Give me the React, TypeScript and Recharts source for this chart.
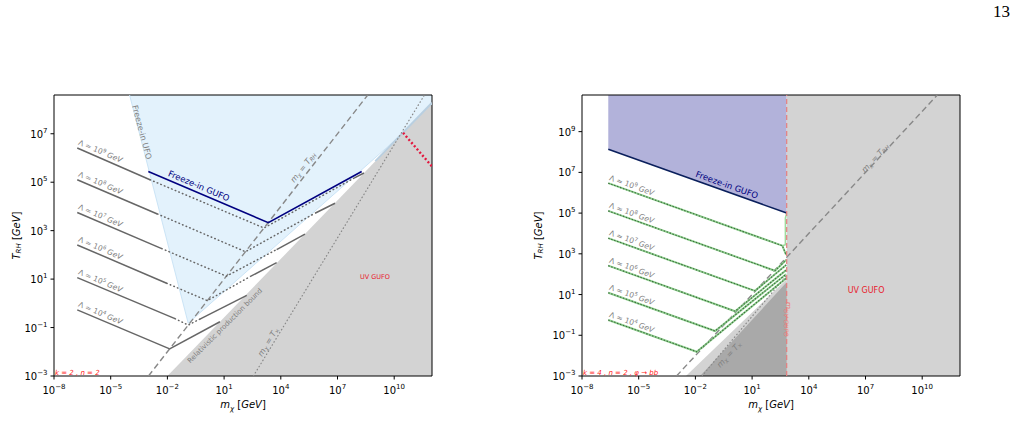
import React from 'react';
import { ComposedChart, Area, Line, XAxis, YAxis, ReferenceArea, ReferenceDot, Label } from 'recharts';

// axes (values are log10 of GeV)
const X_TICKS = [-8, -5, -2, 1, 4, 7, 10];
const Y_TICKS_L = [-3, -1, 1, 3, 5, 7];
const Y_TICKS_R = [-3, -1, 1, 3, 5, 7, 9];
const X_DOMAIN = [-8, 12];
const Y_DOMAIN_L = [-3, 8.6];
const Y_DOMAIN_R = [-3, 10.8];
const LAMBDA_EXP = [9, 8, 7, 6, 5, 4];

// left panel (k=2, n=2)
const L_LAM_X0 = -6.77;
const L_LAM_Y0 = [6.41, 5.1, 3.75, 2.41, 1.06, -0.27];
const L_LAM_SOLID_END = [[-2.92, 5.1], [-2.53, 3.69], [-2.3, 2.26], [-2.04, 0.83], [-1.6, -0.63], [-1.88, -1.88]];
const L_LAM_VERTEX = [[3.11, 3.11], [2.13, 2.13], [1.12, 1.12], [0.11, 0.11], [-0.9, -0.9], [-1.88, -1.88]];
const L_LAM_DOT_END = [[7.9, 5.18], [5.81, 3.72], [3.78, 2.22], [2.37, 1.1], [-0.28, -0.65], [-1.88, -1.88]];
const L_LAM_END = [[8.4, 5.38], [6.87, 4.13], [5.28, 2.86], [3.78, 1.68], [2.2, 0.33], [0.78, -0.76]];
const L_GRAY = [[-2, -3, -3], [12, -3, 8.28]];
const L_BLUE = [[-4.0, 8.6, 8.6], [-0.9, -0.82, 8.6], [10.4, 6.98, 8.6], [12, 8.28, 8.6]];
const L_BLUE_EDGE = [[-4.0, 8.6], [-0.9, -0.82], [10.4, 6.98]];
const L_BLUE_BAND = [[9.0, 5.87], [12, 8.28]];
const L_GUFO = [[-3.01, 5.44], [3.34, 3.33], [8.28, 5.44]];
const L_TRH = [[-3, -3], [8.6, 8.6]];
const L_TX = [[2.55, -3], [11.6, 8.6]];
const L_RED = [[10.47, 7.04], [12, 5.65]];

// right panel (k=4, n=2, phi -> bb)
const R_LAM_X0 = -6.61;
const R_LAM_Y0 = [6.47, 5.11, 3.77, 2.42, 1.09, -0.25];
const R_LAM_TURN = [[2.6, 3.4], [2.21, 2.17], [1.15, 1.18], [0.1, 0.18], [-0.96, -0.79], [-1.93, -1.81]];
const R_LAM_END = [[2.8, 2.95], [2.8, 2.7], [2.8, 2.45], [2.8, 2.2], [2.8, 2.0], [2.8, 1.8]];
const R_PURPLE = [[-6.61, 8.14, 10.8], [2.83, 5.0, 10.8]];
const R_LIGHT = [[2.83, -3, 10.8], [12, -3, 10.8]];
const R_BAND = [[-2.5, -3, -3], [2.83, -3, 1.75]];
const R_DARK = [[-1.75, -3, -3], [2.83, -3, 1.6]];
const R_GUFO = [[-6.61, 8.14], [2.83, 5.0]];
const R_UV = [[2.83, -3], [2.83, 10.8]];
const R_TRH = [[-3, -3], [10.8, 10.8]];
const R_TX = [[-1.65, -3], [2.83, 1.95]];
const R_GREEN_EDGE = [[2.83, 5.0], [2.76, 4.75], [2.76, 3.45], [2.6, 3.4]];

const FONT = 'DejaVu Sans';
const GREY_TXT = '#808080';

const pts = (a: number[][]) => a.map(([x, y]) => ({ x, y }));
const rng = (a: number[][]) => a.map(([x, lo, hi]) => ({ x, r: [lo, hi] }));
const sup = (v: number) => (v < 0 ? '\u2212' + Math.abs(v) : String(v));

const line = (key: string, a: number[][], stroke: string, w: number, dash?: string, cap?: string) => (
  <Line
    key={key}
    data={pts(a)}
    dataKey="y"
    type="linear"
    stroke={stroke}
    strokeWidth={w}
    strokeDasharray={dash}
    strokeLinecap={(cap || 'butt') as any}
    dot={false}
    activeDot={false}
    legendType="none"
    isAnimationActive={false}
  />
);

const area = (key: string, a: number[][], fill: string) => (
  <Area
    key={key}
    data={rng(a)}
    dataKey="r"
    type="linear"
    stroke="none"
    fill={fill}
    fillOpacity={1}
    dot={false}
    activeDot={false}
    legendType="none"
    isAnimationActive={false}
  />
);

// text placed through the chart scales
const txt = (key: string, x: number, y: number, rot: number, body: React.ReactNode, opts: any = {}) => (
  <ReferenceDot
    key={key}
    x={x}
    y={y}
    r={0}
    ifOverflow="visible"
    shape={(p: any) => (
      <text
        transform={`translate(${p.cx},${p.cy}) rotate(${rot})`}
        textAnchor={opts.anchor || 'middle'}
        dominantBaseline={opts.baseline || 'central'}
        fontSize={opts.size || 8}
        fill={opts.color || GREY_TXT}
        fontFamily={FONT}
        fontStyle={opts.italic ? 'italic' : 'normal'}
      >
        {body}
      </text>
    )}
  />
);

const lamText = (e: number) => (
  <>
    <tspan>{'\u039b \u2243 10'}</tspan>
    <tspan dy={-3} fontSize={5.3}>{e}</tspan>
    <tspan dy={3} fontStyle="italic">{' GeV'}</tspan>
  </>
);

const mEq = (sub: string) => (
  <>
    <tspan fontStyle="italic">m</tspan>
    <tspan dy={2} fontSize={5.5} fontStyle="italic">{'\u03c7'}</tspan>
    <tspan dy={-2}>{' = '}</tspan>
    <tspan fontStyle="italic">T</tspan>
    <tspan dy={2} fontSize={5.5} fontStyle="italic">{sub}</tspan>
  </>
);

const xTick = (p: any) => (
  <text x={p.x} y={p.y + 12} textAnchor="middle" fontSize={10} fill="#000" fontFamily={FONT}>
    10<tspan dy={-5} fontSize={7}>{sup(p.payload.value)}</tspan>
  </text>
);

const yTick = (p: any) => (
  <text x={p.x - 1} y={p.y + 4} textAnchor="end" fontSize={10} fill="#000" fontFamily={FONT}>
    10<tspan dy={-5} fontSize={7}>{sup(p.payload.value)}</tspan>
  </text>
);

const yLabel = (px: number) => (p: any) => {
  const vb = p.viewBox || {};
  const cy = (vb.y ?? 95) + (vb.height ?? 281) / 2;
  return (
    <text transform={`translate(${px},${cy}) rotate(-90)`} textAnchor="middle" dominantBaseline="central" fontSize={10} fontFamily={FONT} fill="#000">
      <tspan fontStyle="italic">T</tspan>
      <tspan dy={2.5} fontSize={7} fontStyle="italic">RH</tspan>
      <tspan dy={-2.5}>{' ['}</tspan>
      <tspan fontStyle="italic">GeV</tspan>
      <tspan>]</tspan>
    </text>
  );
};

const xLabel = (p: any) => {
  const vb = p.viewBox || {};
  const cx = (vb.x ?? 54) + (vb.width ?? 378) / 2;
  return (
    <text x={cx} y={(vb.y ?? 376) + 32} textAnchor="middle" fontSize={10} fontFamily={FONT} fill="#000">
      <tspan fontStyle="italic">m</tspan>
      <tspan dy={2.5} fontSize={7} fontStyle="italic">{'\u03c7'}</tspan>
      <tspan dy={-2.5}>{' ['}</tspan>
      <tspan fontStyle="italic">GeV</tspan>
      <tspan>]</tspan>
    </text>
  );
};

const axes = (yDomain: number[], yTicks: number[], yw: number, ylx: number) => [
  <XAxis
    key="xa"
    type="number"
    dataKey="x"
    domain={X_DOMAIN}
    ticks={X_TICKS}
    allowDataOverflow
    axisLine={false}
    tickSize={3.5}
    tickLine={{ stroke: '#000' }}
    tick={xTick}
    height={30}
    interval={0}
  >
    <Label content={xLabel} />
  </XAxis>,
  <YAxis
    key="ya"
    type="number"
    domain={yDomain}
    ticks={yTicks}
    allowDataOverflow
    axisLine={false}
    tickSize={3.5}
    tickLine={{ stroke: '#000' }}
    tick={yTick}
    width={yw}
    interval={0}
  >
    <Label content={yLabel(ylx)} />
  </YAxis>,
];

function LeftPanel() {
  return (
    <ComposedChart width={500} height={440} margin={{ top: 95, right: 68, bottom: 34, left: 0 }}>
      {axes(Y_DOMAIN_L, Y_TICKS_L, 54, 16)}
      {area('gray', L_GRAY, '#d3d3d3')}
      {area('blue', L_BLUE, '#e3f2fc')}
      {line('bedge', L_BLUE_EDGE, '#cbe4f6', 1)}
      {line('bband', L_BLUE_BAND, '#b9cfe0', 2)}
      {line('trh', L_TRH, '#888888', 1.4, '6 3.5')}
      {line('tx', L_TX, '#888888', 1.2, '0.6 3', 'round')}
      {L_LAM_Y0.map((y0, i) => [
        line(`ls${i}`, [[L_LAM_X0, y0], L_LAM_SOLID_END[i]], '#666666', 1.5),
        line(`ld${i}`, [L_LAM_SOLID_END[i], L_LAM_VERTEX[i], L_LAM_DOT_END[i]], '#666666', 1.5, '0.6 3.3', 'round'),
        line(`la${i}`, [L_LAM_DOT_END[i], L_LAM_END[i]], '#666666', 1.5),
      ])}
      {line('gufo', L_GUFO, '#000080', 1.6)}
      {line('red', L_RED, '#e3173e', 2.4, '2 2.2')}
      {LAMBDA_EXP.map((e, i) =>
        txt(`lt${i}`, L_LAM_X0 + 0.02, L_LAM_Y0[i] + 0.15, 23, lamText(e), { anchor: 'start', baseline: 'auto', size: 7.5 })
      )}
      {txt('gl', -0.33, 4.85, 23, 'Freeze-in GUFO', { color: '#000080', size: 8.5 })}
      {txt('ufo', -3.36, 7.06, 75, 'Freeze-in UFO', { size: 8 })}
      {txt('mtrh', 5.17, 5.62, -52, mEq('RH'), { size: 8 })}
      {txt('mtx', 3.32, -1.58, -58, mEq('\u00d7'), { size: 8 })}
      {txt('rel', 1.05, -0.93, -45, 'Relativistic production bound', { size: 7 })}
      {txt('uv', 8.98, 1.09, 0, 'UV GUFO', { color: '#e8192c', size: 6.5 })}
      {txt('kn', -7.95, -2.86, 0, 'k = 2 , n = 2', { color: '#ff2020', size: 7, italic: true, anchor: 'start' })}
      <ReferenceArea x1={-8} x2={12} y1={-3} y2={8.6} fill="none" stroke="#000" strokeWidth={1} ifOverflow="visible" />
    </ComposedChart>
  );
}

function RightPanel() {
  return (
    <ComposedChart width={480} height={440} margin={{ top: 95, right: 40, bottom: 34, left: 0 }}>
      {axes(Y_DOMAIN_R, Y_TICKS_R, 62, 18)}
      {area('purple', R_PURPLE, '#b2b2da')}
      {area('light', R_LIGHT, '#d3d3d3')}
      {area('band', R_BAND, '#d3d3d3')}
      {area('dark', R_DARK, '#a9a9a9')}
      {line('trh', R_TRH, '#888888', 1.4, '6 3.5')}
      {line('tx', R_TX, '#888888', 1.2, '0.6 3', 'round')}
      {line('gedge', R_GREEN_EDGE, '#9fdc9f', 1.5)}
      {R_LAM_Y0.map((y0, i) => [
        line(`gl${i}`, [[R_LAM_X0, y0], R_LAM_TURN[i], R_LAM_END[i]], '#8fd08f', 2),
        line(`gd${i}`, [[R_LAM_X0, y0], R_LAM_TURN[i], R_LAM_END[i]], '#3d6b3d', 1.1, '1.5 1.6'),
      ])}
      {line('gufo', R_GUFO, '#0a1f5c', 1.6)}
      {line('uv', R_UV, '#e57f7f', 1.2, '5 3')}
      {LAMBDA_EXP.map((e, i) =>
        txt(`lt${i}`, R_LAM_X0 + 0.02, R_LAM_Y0[i] + 0.16, 19.7, lamText(e), { anchor: 'start', baseline: 'auto', size: 7.5 })
      )}
      {txt('gl', -0.33, 6.39, 19.7, 'Freeze-in GUFO', { color: '#000080', size: 8.5 })}
      {txt('mtrh', 7.5, 7.71, -47, mEq('RH'), { size: 8 })}
      {txt('mtx', -0.22, -1.92, -47, mEq('\u00d7'), { size: 8 })}
      {txt('uv', 7.03, 1.18, 0, 'UV GUFO', { color: '#e8192c', size: 8 })}
      {txt(
        'muv',
        2.93,
        0.65,
        90,
        <>
          <tspan fontStyle="italic">m</tspan>
          <tspan dy={2} fontSize={6} fontStyle="italic">UV GUFO</tspan>
        </>,
        { color: '#e88080', size: 7.5, anchor: 'start' }
      )}
      {txt(
        'kn',
        -7.95,
        -2.86,
        0,
        'k = 4 , n = 2 , \u03c6 \u2192 bb',
        { color: '#ff2020', size: 7, italic: true, anchor: 'start' }
      )}
      <ReferenceArea x1={-8} x2={12} y1={-3} y2={10.8} fill="none" stroke="#000" strokeWidth={1} ifOverflow="visible" />
    </ComposedChart>
  );
}

export default function App() {
  return (
    <div style={{ position: 'absolute', left: 0, top: 0, width: 1015, height: 440, background: '#fff', overflow: 'hidden' }}>
      <div style={{ position: 'absolute', left: 993, top: 2, fontFamily: 'Liberation Serif', fontSize: 17, color: '#000' }}>13</div>
      <div style={{ position: 'absolute', left: 0, top: 0 }}>
        <LeftPanel />
      </div>
      <div style={{ position: 'absolute', left: 520, top: 0 }}>
        <RightPanel />
      </div>
    </div>
  );
}
